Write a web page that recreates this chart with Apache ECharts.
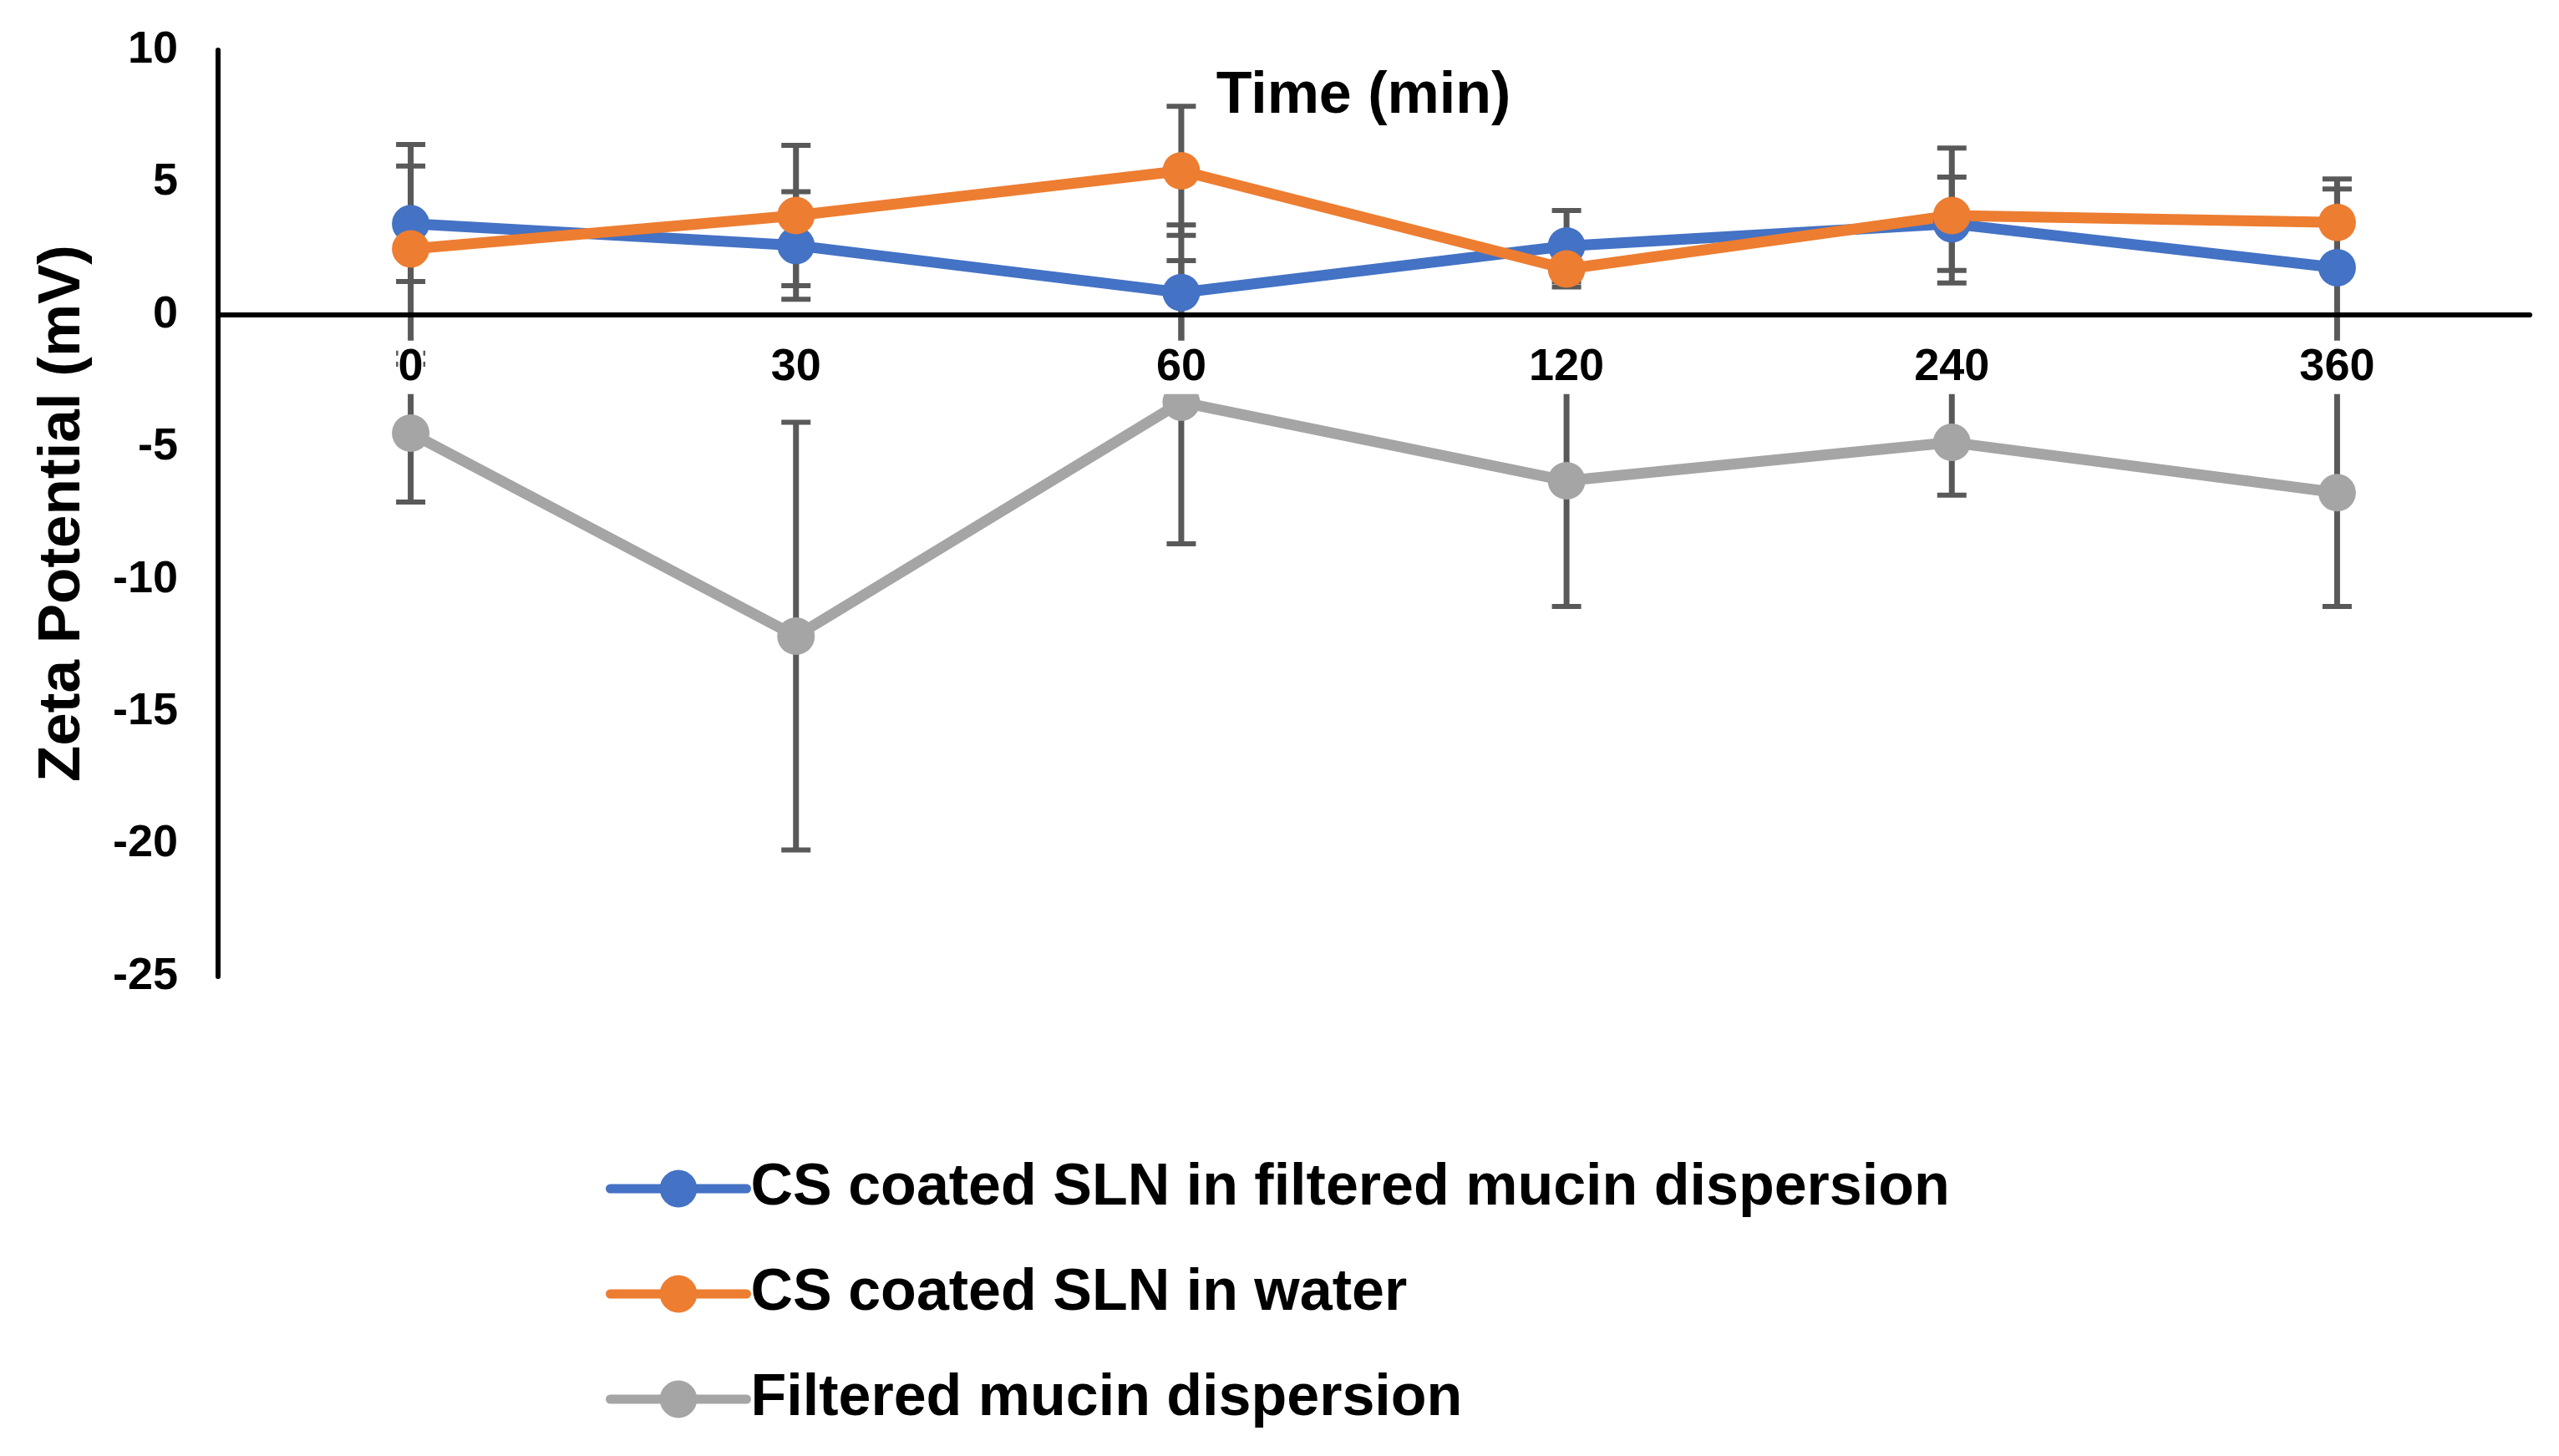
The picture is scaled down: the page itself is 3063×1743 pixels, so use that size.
<!DOCTYPE html>
<html><head><meta charset="utf-8">
<script src="https://cdn.jsdelivr.net/npm/echarts@6/dist/echarts.min.js"></script>
<style>html,body{margin:0;padding:0;background:#fff}#c{width:3063px;height:1743px}</style>
</head><body><div id="c"></div>
<script>
const categories = ['0', '30', '60', '120', '240', '360'];
const seriesNames = ['CS coated SLN in filtered mucin dispersion', 'CS coated SLN in water', 'Filtered mucin dispersion'];
const slnMucin = [3.44, 2.62, 0.84, 2.60, 3.44, 1.78];
const slnMucinErr = [2.18, 2.03, 2.56, 1.34, 1.76, 2.97];
const slnWater = [2.49, 3.75, 5.44, 1.73, 3.75, 3.49];
const slnWaterErr = [3.94, 2.65, 2.44, 0.68, 2.55, 1.64];
const mucin = [-4.47, -12.14, -3.30, -6.27, -4.82, -6.72];
const mucinErr = [2.60, 8.08, 5.35, 4.75, 1.99, 4.30];
const yMin = -25, yMax = 10, yInterval = 5;
const colors = ['#4472C4', '#ED7D31', '#A5A5A5'];

const FONT = '"Liberation Sans", Arial, sans-serif';
const GRID = { left: 261, right: 35, top: 60, bottom: 574 };
const plotH = 1743 - GRID.top - GRID.bottom;
// shift the x axis (line + labels) from the bottom of the grid up to y = 0
const xAxisOffset = -plotH * (0 - yMin) / (yMax - yMin);

function errData(vals, errs) {
  return vals.map((v, i) => [i, v - errs[i], v + errs[i]]);
}
function errRender(params, api) {
  const x = api.value(0), lo = api.value(1), hi = api.value(2);
  const p1 = api.coord([x, hi]), p2 = api.coord([x, lo]);
  const hw = 17.5;
  const style = { stroke: '#595959', lineWidth: 7, fill: null };
  const capStyle = { stroke: '#595959', lineWidth: 6, fill: null };
  return { type: 'group', children: [
    { type: 'line', shape: { x1: p1[0], y1: p1[1], x2: p2[0], y2: p2[1] }, style: style },
    { type: 'line', shape: { x1: p1[0] - hw, y1: p1[1], x2: p1[0] + hw, y2: p1[1] }, style: capStyle },
    { type: 'line', shape: { x1: p2[0] - hw, y1: p2[1], x2: p2[0] + hw, y2: p2[1] }, style: capStyle }
  ] };
}
function lineSeries(name, data, color) {
  return { name: name, type: 'line', data: data, z: 3, symbol: 'circle', symbolSize: 45,
    itemStyle: { color: color, borderWidth: 0 }, lineStyle: { color: color, width: 13 } };
}
function errSeries(name, vals, errs) {
  return { name: name, type: 'custom', z: 1, renderItem: errRender, data: errData(vals, errs),
    encode: { x: 0, y: [1, 2] }, silent: true };
}

const chart = echarts.init(document.getElementById('c'), null, { renderer: 'canvas' });
chart.setOption({
  animation: false,
  backgroundColor: '#fff',
  textStyle: { fontFamily: FONT },
  grid: { left: GRID.left, right: GRID.right, top: GRID.top, bottom: GRID.bottom, containLabel: false },
  graphic: [{
    type: 'text', x: 1632, y: 116, z: 20,
    style: { text: 'Time (min)', align: 'center', verticalAlign: 'middle', fill: '#000',
      font: 'bold 70px ' + FONT }
  }],
  legend: {
    orient: 'vertical', left: 720, top: 1383, itemWidth: 163, itemHeight: 56, itemGap: 56,
    data: seriesNames,
    lineStyle: { width: 11, cap: 'round' },
    textStyle: { fontSize: 70, fontWeight: 'bold', color: '#000', fontFamily: FONT }
  },
  xAxis: {
    type: 'category', data: categories, z: 10, offset: xAxisOffset,
    axisLine: { show: true, onZero: false, lineStyle: { color: '#000', width: 6 } },
    axisTick: { show: false },
    splitLine: { show: false },
    axisLabel: { fontSize: 54, fontWeight: 'bold', color: '#000', fontFamily: FONT, margin: 31,
      backgroundColor: '#fff', padding: [5, 0], lineHeight: 54 }
  },
  yAxis: {
    type: 'value', min: yMin, max: yMax, interval: yInterval,
    name: 'Zeta Potential (mV)', nameLocation: 'middle', nameGap: 150,
    nameTextStyle: { fontSize: 71, fontWeight: 'bold', color: '#000', fontFamily: FONT },
    axisLine: { show: true, lineStyle: { color: '#000', width: 6 } },
    axisTick: { show: false },
    splitLine: { show: false },
    axisLabel: { fontSize: 54, fontWeight: 'bold', color: '#000', fontFamily: FONT, margin: 48 }
  },
  series: [
    errSeries('err0', slnMucin, slnMucinErr),
    errSeries('err1', slnWater, slnWaterErr),
    errSeries('err2', mucin, mucinErr),
    lineSeries(seriesNames[0], slnMucin, colors[0]),
    lineSeries(seriesNames[1], slnWater, colors[1]),
    lineSeries(seriesNames[2], mucin, colors[2])
  ]
});
</script>
</body></html>
